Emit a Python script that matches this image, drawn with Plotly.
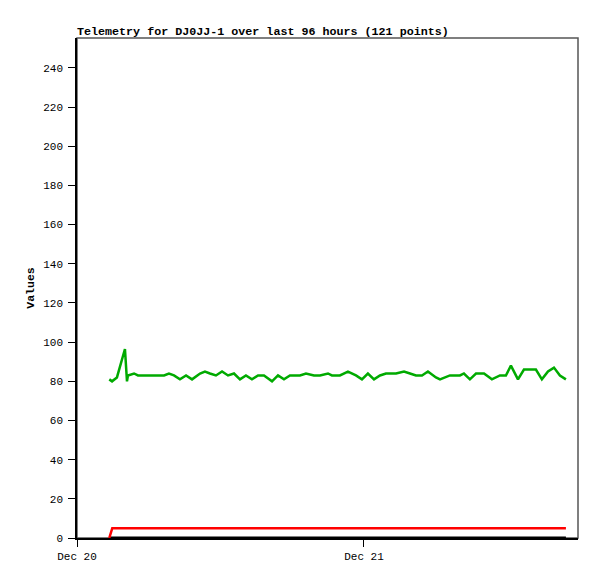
import pandas as pd
import plotly.graph_objects as go

start = pd.Timestamp("2023-12-20 00:00")

# hours after Dec 20 00:00
green_hours = [2.70, 2.93, 3.34, 4.01, 4.18, 4.26, 4.77, 5.10, 7.28, 7.69,
               8.11, 8.61, 9.12, 9.62, 10.29, 10.70, 11.12, 11.62, 12.13, 12.63,
               13.13, 13.63, 14.13, 14.63, 15.14, 15.64, 16.31, 16.81, 17.31, 17.81,
               18.65, 19.15, 19.82, 20.32, 20.99, 21.32, 21.99, 22.66, 23.33, 23.83,
               24.33, 24.84, 25.34, 25.84, 26.68, 27.35, 27.85, 28.35, 28.85, 29.35,
               30.02, 30.36, 31.19, 32.03, 32.36, 32.86, 33.37, 34.04, 34.70, 35.37,
               35.87, 36.29, 36.88, 37.38, 38.38, 38.88, 39.39, 39.89, 40.39, 40.89]
green_values = [81, 80, 82, 96.5, 80, 83, 84, 83, 83, 84,
                83, 81, 83, 81, 84, 85, 84, 83, 85, 83,
                84, 81, 83, 81, 83, 83, 80, 83, 81, 83,
                83, 84, 83, 83, 84, 83, 83, 85, 83, 81,
                84, 81, 83, 84, 84, 85, 84, 83, 83, 85,
                82, 81, 83, 83, 84, 81, 84, 84, 81, 83,
                83, 88, 81, 86, 86, 81, 85, 87, 83, 81]

red_hours = [2.70, 2.95, 40.89]
red_values = [0, 5, 5]

black_hours = [2.70, 40.89]
black_values = [0, 0]

def to_time(hours):
    return [start + pd.Timedelta(hours=h) for h in hours]

fig = go.Figure()

fig.add_trace(go.Scatter(x=to_time(black_hours), y=black_values, mode='lines',
                         line=dict(color='#000000', width=3)))
fig.add_trace(go.Scatter(x=to_time(red_hours), y=red_values, mode='lines',
                         line=dict(color='#ff0000', width=2.5)))
fig.add_trace(go.Scatter(x=to_time(green_hours), y=green_values, mode='lines',
                         line=dict(color='#00aa00', width=2.5)))

fig.add_shape(type='rect', xref='paper', yref='paper', x0=0, x1=1, y0=0, y1=1,
              line=dict(color='#555555', width=1.5), layer='below')

mono = "Liberation Mono, DejaVu Sans Mono, monospace"

# the page body adds an 8px offset, so margins are shifted to compensate
fig.update_layout(
    width=597,
    height=579,
    margin=dict(l=69, r=27, t=30, b=49),
    plot_bgcolor='white',
    paper_bgcolor='white',
    showlegend=False,
    font=dict(family=mono, size=11, color='#000000'),
    title=dict(text='<b>Telemetry for DJ0JJ-1 over last 96 hours (121 points)</b>',
               x=69 / 597, xanchor='left', y=1 - 27 / 579, yanchor='bottom',
               font=dict(family=mono, size=11.7, color='#000000')),
)

fig.update_xaxes(
    type='date',
    automargin=False,
    range=[start, start + pd.Timedelta(hours=41.9)],
    tickvals=[start, start + pd.Timedelta(days=1)],
    ticktext=['Dec 20', 'Dec 21'],
    showgrid=False, zeroline=False,
    showline=True, linecolor='#000000', linewidth=1.5,
    ticks='outside', ticklen=7, tickcolor='#000000', tickwidth=1,
)

fig.update_yaxes(
    automargin=False,
    range=[0, 255.3],
    tick0=0, dtick=20,
    showgrid=False, zeroline=False,
    showline=True, linecolor='#000000', linewidth=1.5,
    ticks='outside', ticklen=7, tickcolor='#000000', tickwidth=1,
    ticklabelstandoff=3,
    title=dict(text='<b>Values</b>', font=dict(family=mono, size=11.5), standoff=6),
)

fig.write_html("out.html")
